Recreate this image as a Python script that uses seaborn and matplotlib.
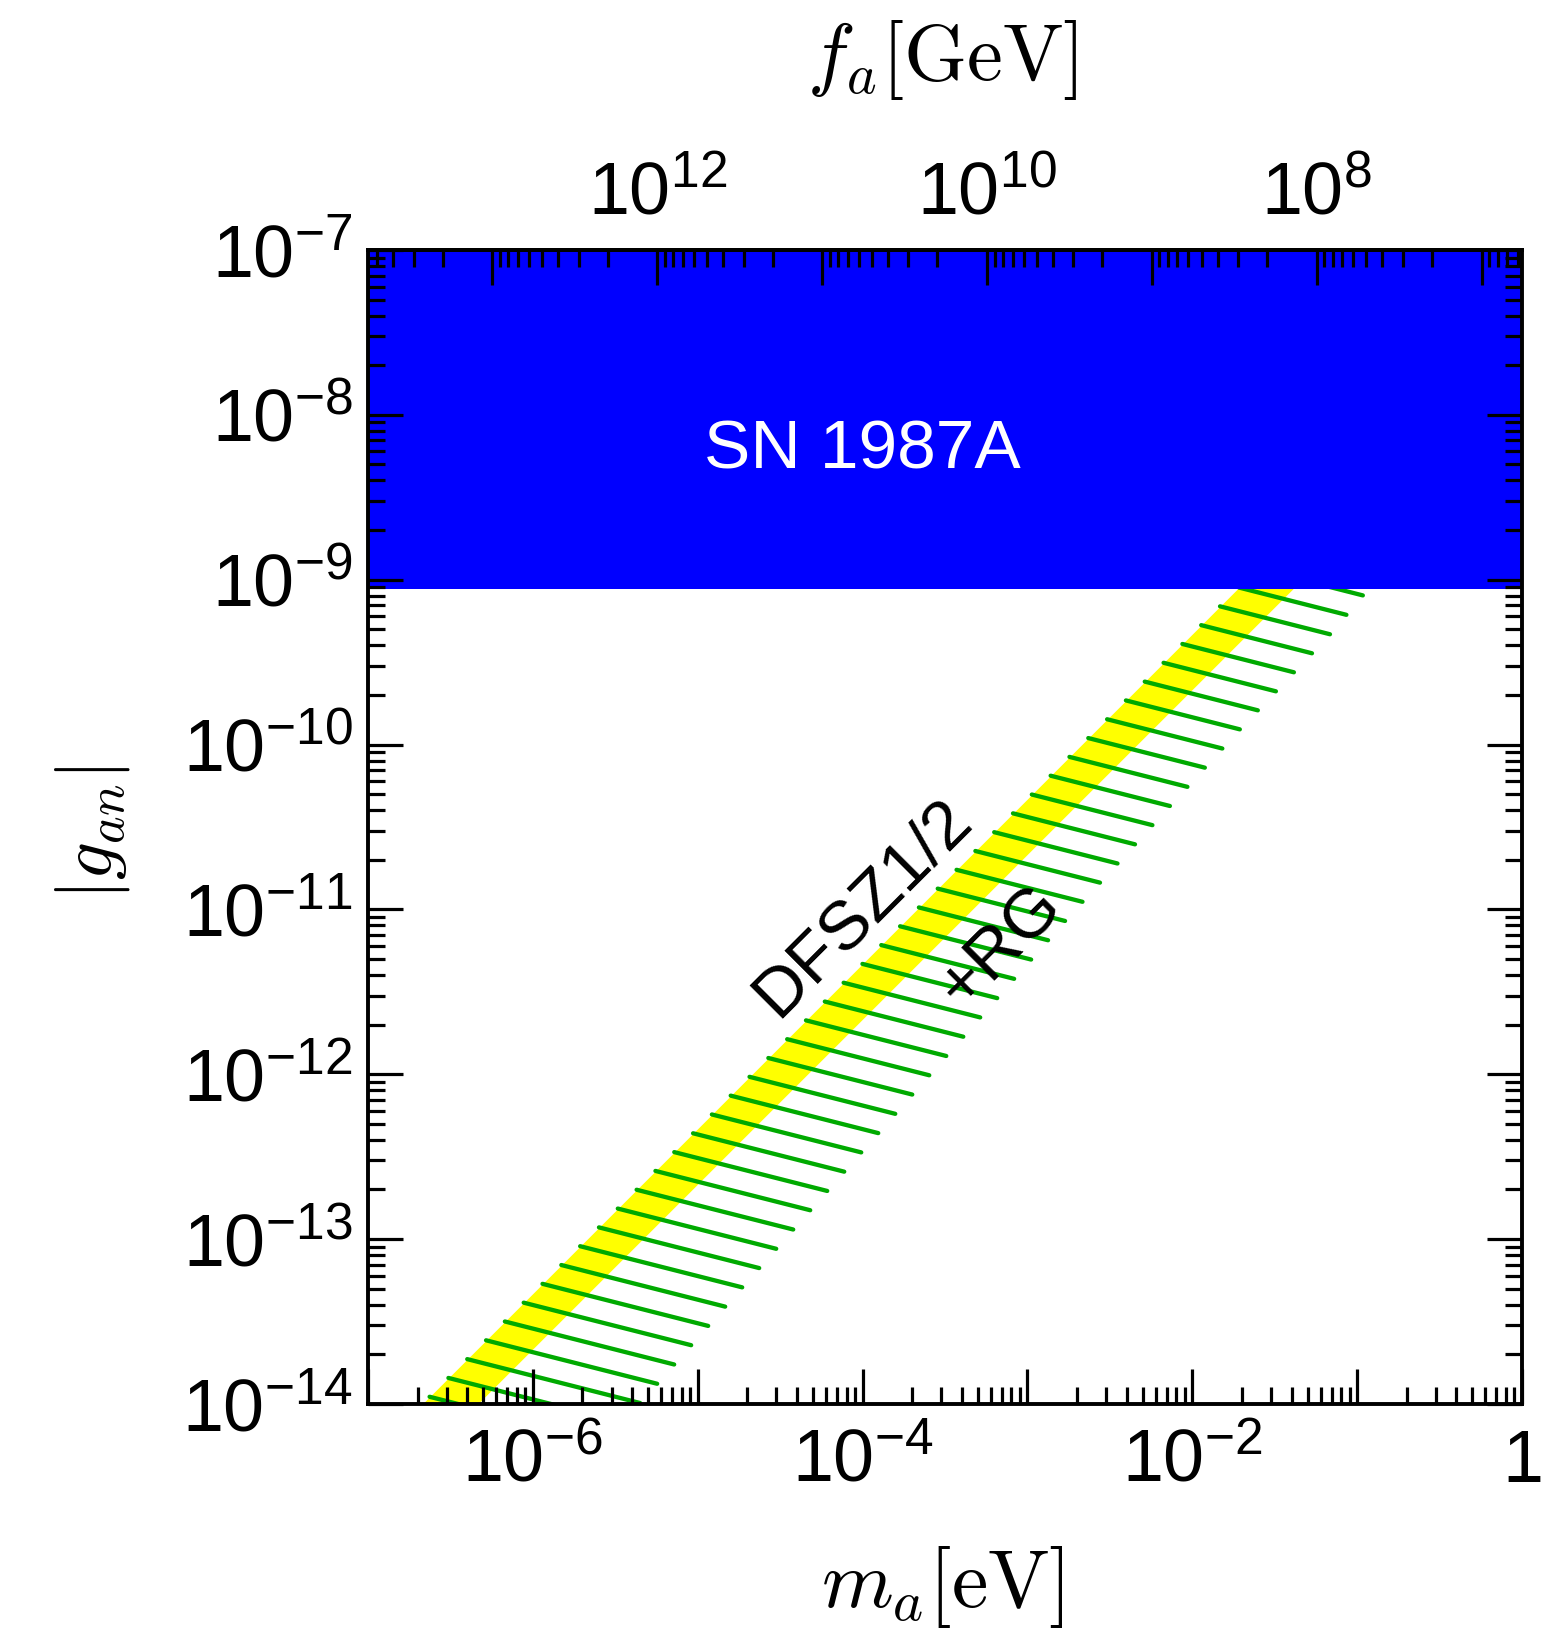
import numpy as np
import pandas as pd
import matplotlib
matplotlib.use("Agg")
import matplotlib.pyplot as plt
import seaborn as sns
from matplotlib.ticker import LogLocator, FuncFormatter, NullFormatter

# ---------------- data ----------------
m_range = [1e-7, 1.0]                 # axion mass m_a [eV]
g_range = [1e-14, 1e-7]               # |g_an|
sn_lower = 8.75e-10                   # SN 1987A excluded region: g_an above this
sn_upper = 1e-7
band_m = [1e-8, 10.0]                 # DFSZ1/2 band (g proportional to m_a)
band_g_upper = [4.68e-16, 4.68e-7]
band_g_lower = [2.16e-16, 2.16e-7]
rg_edge_m = [5.64e-6, 4.08e-4, 1.69e-3, 1.945e-2, 6.84e-2, 0.1086]   # end of +RG hatching
rg_edge_g = [1.318e-14, 1.690e-12, 8.51e-12, 1.239e-10, 4.667e-10, 8.07e-10]
fa_const = 5.69e6                     # f_a[GeV] = fa_const / m_a[eV]
x_tick_exps = [-6, -4, -2, 0]
top_tick_exps = [12, 10, 8]

# hatch pattern settings (style)
hatch_spacing = 0.11416               # decades in m between hatch lines
hatch_slope = -0.254                  # d log g / d log m of hatch strokes
hatch_first = -6.284                  # log m of one hatch start

# ---------------- style ----------------
sns.set_style("ticks")
plt.rcParams.update({
    "font.family": ["Liberation Sans", "DejaVu Sans"],
    "mathtext.fontset": "custom",
    "mathtext.rm": "Liberation Sans",
    "mathtext.it": "Liberation Sans:italic",
    "mathtext.bf": "Liberation Sans:bold",
    "axes.linewidth": 2.8,
    "axes.edgecolor": "black",
    "axes.axisbelow": False,
    "text.color": "black",
    "axes.labelcolor": "black",
    "xtick.color": "black",
    "ytick.color": "black",
    "xtick.labelcolor": "black",
    "ytick.labelcolor": "black",
})

fig = plt.figure(figsize=(15.66, 16.35), dpi=100)
ax = fig.add_axes([0.2350, 0.1413, 0.7369, 0.7058])
ax.set_xscale("log")
ax.set_yscale("log")
ax.set_xlim(m_range)
ax.set_ylim(g_range)
ax.set_axisbelow(False)

# DFSZ band
ax.fill_between(band_m, band_g_lower, band_g_upper, color="#FFFF00", lw=0, zorder=1)

# +RG hatching: strokes start on the band's upper edge, end on the RG edge
lm_edge = np.log10(rg_edge_m)
lg_edge = np.log10(rg_edge_g)
log_c_up = np.log10(band_g_upper[1] / band_m[1])


def edge_logg(lm):
    lm = np.asarray(lm, float)
    out = np.interp(lm, lm_edge, lg_edge)
    s0 = (lg_edge[1] - lg_edge[0]) / (lm_edge[1] - lm_edge[0])
    s1 = (lg_edge[-1] - lg_edge[-2]) / (lm_edge[-1] - lm_edge[-2])
    lo = lm < lm_edge[0]
    hi = lm > lm_edge[-1]
    out[lo] = lg_edge[0] + s0 * (lm[lo] - lm_edge[0])
    out[hi] = lg_edge[-1] + s1 * (lm[hi] - lm_edge[-1])
    return out


rows = []
tgrid = np.linspace(0, 2.5, 5001)
for k in range(-4, 43):
    s = hatch_first + hatch_spacing * k
    g0 = s + log_c_up
    diff = g0 + hatch_slope * tgrid - edge_logg(s + tgrid)
    idx = np.argmax(diff <= 0)
    t = tgrid[idx]
    rows.append((10 ** s, 10 ** g0, k))
    rows.append((10 ** (s + t), 10 ** (g0 + hatch_slope * t), k))
hatch = pd.DataFrame(rows, columns=["m", "g", "seg"])
sns.lineplot(data=hatch, x="m", y="g", units="seg", estimator=None, sort=False,
             color="#00AA00", lw=3.1, ax=ax, legend=False, zorder=1.5)

# SN 1987A region
ax.fill_between(m_range, [sn_lower] * 2, [sn_upper] * 2, color="#0000FF", lw=0, zorder=2.2)

ax.text(1.0e-4, 6.12e-9, "SN 1987A", color="white", fontsize=50,
        ha="center", va="center", zorder=3)
ax.text(1.0e-4, 1.02e-11, "DFSZ1/2", rotation=45, rotation_mode="anchor",
        ha="center", va="center", fontsize=50, color="black", zorder=3)
ax.text(6.9e-4, 5.9e-12, "+RG", rotation=45, rotation_mode="anchor",
        ha="center", va="center", fontsize=50, color="black", zorder=3)

ax.set_xlabel("")
ax.set_ylabel("")


def xfmt(v, pos):
    e = int(round(np.log10(v)))
    if e not in x_tick_exps:
        return ""
    return "$1$" if e == 0 else "$10^{%d}$" % e


def yfmt(v, pos):
    e = int(round(np.log10(v)))
    return "$10^{%d}$" % e


ax.xaxis.set_major_locator(LogLocator(base=10, numticks=100))
ax.xaxis.set_minor_locator(LogLocator(base=10, subs=np.arange(2, 10), numticks=100))
ax.yaxis.set_major_locator(LogLocator(base=10, numticks=100))
ax.yaxis.set_minor_locator(LogLocator(base=10, subs=np.arange(2, 10), numticks=100))
ax.xaxis.set_major_formatter(FuncFormatter(xfmt))
ax.yaxis.set_major_formatter(FuncFormatter(yfmt))
ax.xaxis.set_minor_formatter(NullFormatter())
ax.yaxis.set_minor_formatter(NullFormatter())

ax.tick_params(which="major", direction="in", length=25, width=2.3, labelsize=53,
               color="black", labelcolor="black")
ax.tick_params(which="minor", direction="in", length=12, width=2.3, color="black")
ax.tick_params(axis="y", which="both", left=True, right=True, pad=11)
ax.tick_params(axis="x", which="both", bottom=True, top=False, pad=17)
for sp in ax.spines.values():
    sp.set_visible(True)
    sp.set_linewidth(2.8)
    sp.set_color("black")
    sp.set_zorder(4)


def m_to_f(m):
    return fa_const / np.asarray(m, float)


def f_to_m(f):
    return fa_const / np.asarray(f, float)


secax = ax.secondary_xaxis("top", functions=(m_to_f, f_to_m))
secax.set_zorder(5)
secax.set_axisbelow(False)


def tfmt(v, pos):
    e = int(round(np.log10(v)))
    return "$10^{%d}$" % e if e in top_tick_exps else ""


secax.xaxis.set_major_locator(LogLocator(base=10, numticks=100))
secax.xaxis.set_minor_locator(LogLocator(base=10, subs=np.arange(2, 10), numticks=100))
secax.xaxis.set_major_formatter(FuncFormatter(tfmt))
secax.xaxis.set_minor_formatter(NullFormatter())
secax.tick_params(which="major", direction="in", length=25, width=2.3, labelsize=53,
                  pad=15, color="black", labelcolor="black")
secax.tick_params(which="minor", direction="in", length=12, width=2.3, color="black")
secax.spines["top"].set_linewidth(2.8)
secax.spines["top"].set_color("black")

# axis titles (Computer Modern math)
fig.text(942 / 1566, 1 - 1607 / 1635, r"$m_a[\mathrm{eV}]$", fontsize=59,
         ha="center", va="baseline", math_fontfamily="cm")
fig.text(942 / 1566, 1 - 80 / 1635, r"$f_a[\mathrm{GeV}]$", fontsize=58,
         ha="center", va="baseline", math_fontfamily="cm")
fig.text(93 / 1566, 1 - 833 / 1635, r"$|g_{an}|$", fontsize=54, rotation=90,
         ha="center", va="center", math_fontfamily="cm")

fig.savefig("out.png", dpi=100)
